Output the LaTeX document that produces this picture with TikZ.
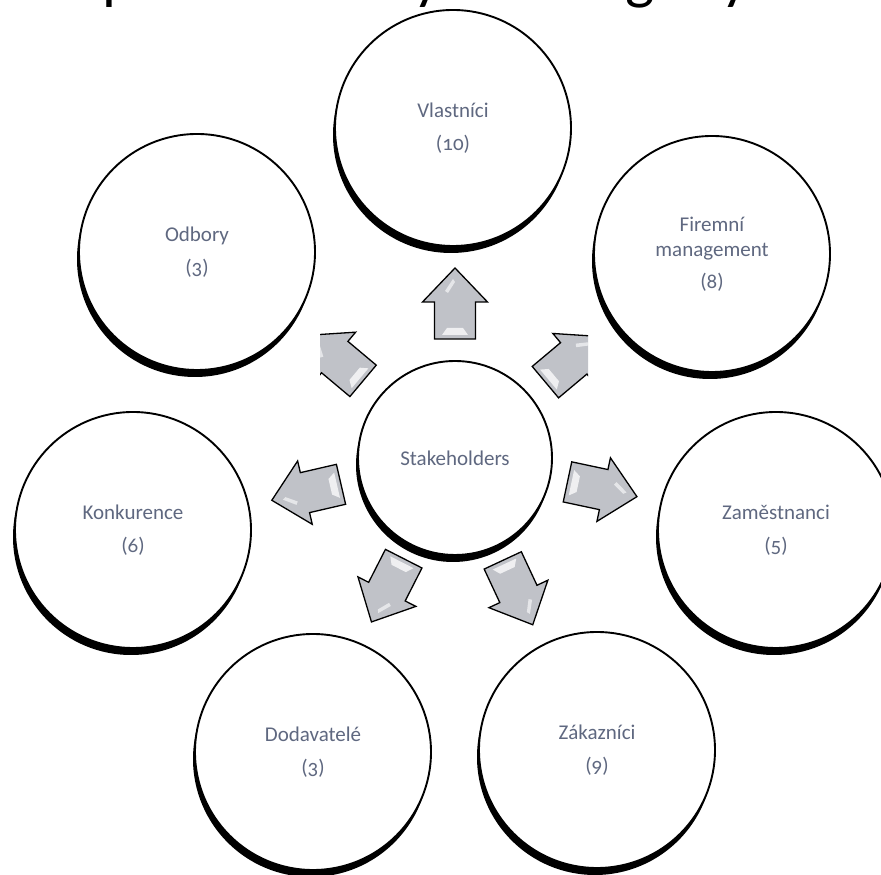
\documentclass[tikz,border=0pt]{standalone}
\usepackage{fontspec}
\setmainfont{Carlito}[Numbers=OldStyle]
\usetikzlibrary{shadows,calc}
\definecolor{txt}{RGB}{95,104,128}
\definecolor{arrfill}{RGB}{192,194,200}
\begin{document}
\begin{tikzpicture}[x=1pt,y=1pt,
  stake/.style={circle, draw=black, line width=1.9pt, fill=white, inner sep=0pt,
    minimum size=236pt, align=center, text=txt, font=\fontsize{21}{25}\selectfont,
    drop shadow={shadow xshift=-2pt, shadow yshift=-7pt, opacity=1, fill=black}},
  hub/.style={stake, minimum size=194pt},
  titleglyph/.style={anchor=base, inner sep=0pt, font=\fontsize{62}{62}\selectfont, text=black},
  pics/blockarr/.style={code={
    \draw[line width=1.3pt, fill=arrfill, line join=miter]
      (0,-20.5) -- (37,-20.5) -- (37,-32.5) -- (71,0) -- (37,32.5) -- (37,20.5) -- (0,20.5) -- cycle;
    \fill[white, opacity=0.75] (4,-13) -- (11,-8) -- (11,8) -- (4,13) -- cycle;
    \fill[white, opacity=0.6] (48,10) -- (60,2) -- (57,0) -- (46,7) -- cycle;
  }}
]
\useasboundingbox (0,0) rectangle (881,875);
\clip (0,0) rectangle (881,875);

% cut-off title (only descenders visible)
\node[titleglyph] (t1) at (119,877) {p};
\node[titleglyph] (t2) at (428,877) {y};
\node[titleglyph] (t3) at (640,877) {g};
\node[titleglyph] (t4) at (736,877) {y};

% circles
\node[stake] (V) at (453,747) {Vlastníci\\[8pt](10)};
\node[stake] (O) at (197,623) {Odbory\\[8pt](3)};
\node[stake] (F) at (712,621) {Firemní\\management\\[7pt](8)};
\node[stake] (K) at (133,345) {Konkurence\\[8pt](6)};
\node[stake] (Z) at (776,345) {Zaměstnanci\\[8pt](5)};
\node[stake] (D) at (313,123) {Dodavatelé\\[8pt](3)};
\node[stake] (A) at (597,125) {Zákazníci\\[8pt](9)};
\node[hub] (S) at (455,417) {Stakeholders};

% arrows
\pic[rotate=90] at ($(S.center)+(90:119)$) {blockarr};
\pic[rotate=193] at ($(S.center)+(193:117)$) {blockarr};
\pic[rotate=-12] at ($(S.center)+(-12:115)$) {blockarr};
\pic[rotate=243] at ($(S.center)+(243:113)$) {blockarr};
\pic[rotate=-65] at ($(S.center)+(-65:113)$) {blockarr};
\begin{scope}
  \clip (0,0) rectangle (588,875);
  \pic[rotate=40] at ($(S.center)+(40:118)$) {blockarr};
\end{scope}
\begin{scope}
  \clip (320,0) rectangle (881,875);
  \pic[rotate=140] at ($(S.center)+(140:120)$) {blockarr};
\end{scope}
\end{tikzpicture}
\end{document}
